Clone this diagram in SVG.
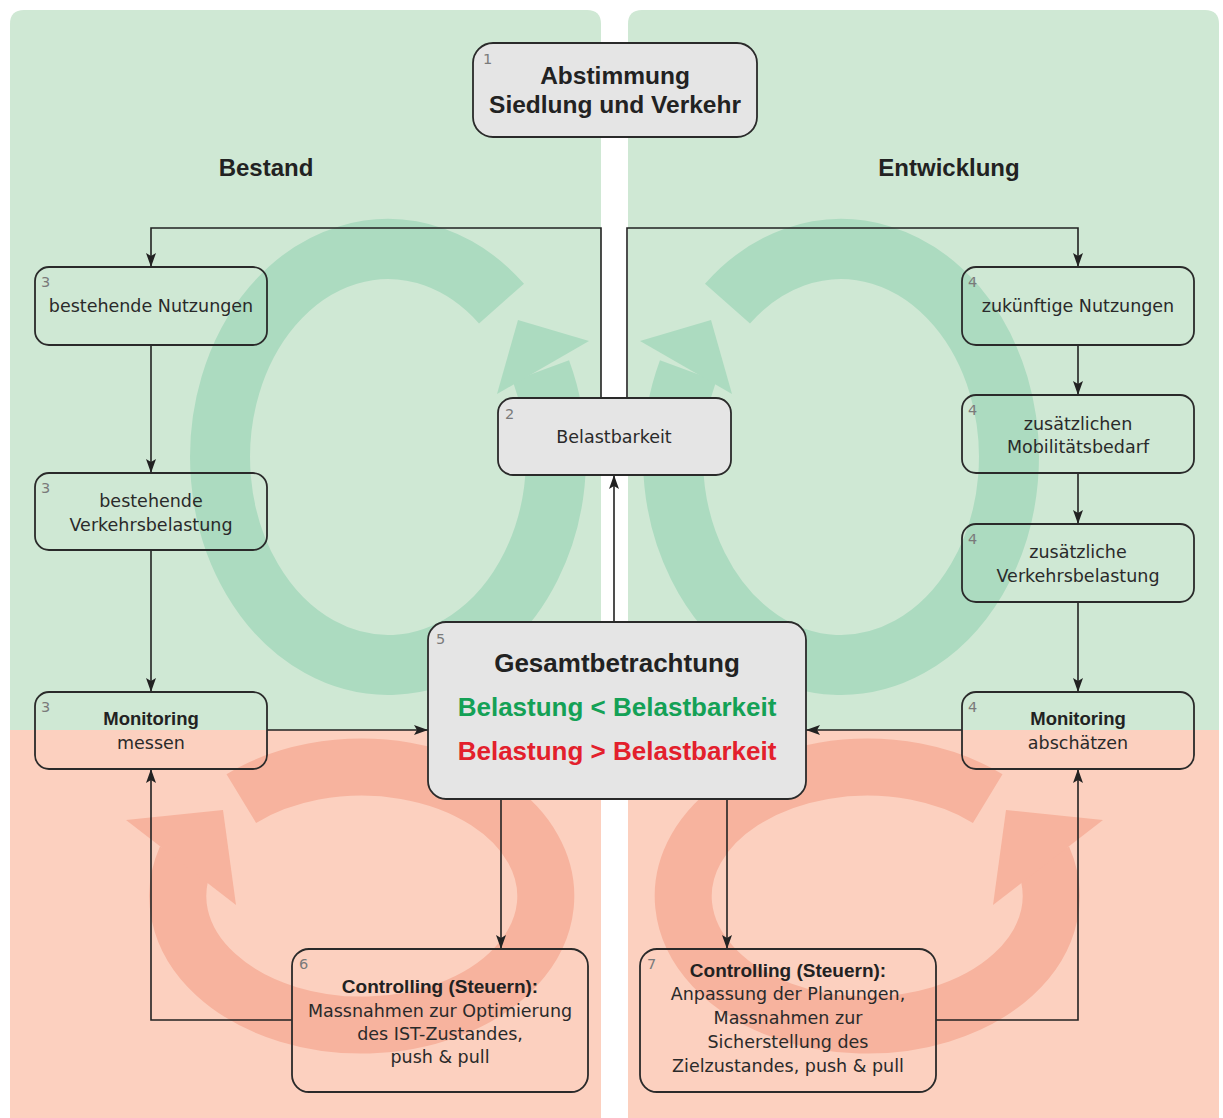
<svg xmlns="http://www.w3.org/2000/svg" width="1223" height="1118" viewBox="0 0 1223 1118">
<style>
.g{fill:#cfe8d4}
.s{fill:#fcd0bf}
.rg{fill:none;stroke:#acdbc0;stroke-width:60}
.rga{fill:#acdbc0}
.rs{fill:none;stroke:#f7b39e;stroke-width:57}
.rsa{fill:#f7b39e}
.box{fill:none;stroke:#2a2a2a;stroke-width:1.8}
.gbox{fill:#e5e5e5;stroke:#2a2a2a;stroke-width:1.8}
.t{font-family:"DejaVu Sans","Liberation Sans",sans-serif;font-size:17.5px;fill:#2a2a2a;text-anchor:middle}
.b{font-family:"Liberation Sans",Arial,sans-serif;font-weight:bold;fill:#222;text-anchor:middle}
.n{font-family:"DejaVu Sans",sans-serif;font-size:14.5px;fill:#7a7a7a}
.conn{fill:none;stroke:#222;stroke-width:1.6}
</style>
<defs>
<marker id="arr" viewBox="0 0 14 10" refX="14" refY="5" markerWidth="14" markerHeight="10" markerUnits="userSpaceOnUse" orient="auto">
<path d="M0,0 L14,5 L0,10 L3,5 Z" fill="#222"/>
</marker>
<g id="ringG">
<path class="rg" d="M501.5,303.6 A168,208 0 1 0 540.9,370.7"/>
<polygon class="rga" points="518,320 589,341 497,394"/>
</g>
<g id="ringS">
<path class="rs" d="M241.3,798.6 A184,129 0 1 1 186,858"/>
<polygon class="rsa" points="223,810 126,820 236,905"/>
</g>
</defs>

<g id="background">
<path class="g" d="M10,24 Q10,10 24,10 H587 Q601,10 601,24 V730 H10 Z"/>
<rect class="s" x="10" y="730" width="591" height="388"/>
<path class="g" d="M628,24 Q628,10 642,10 H1205 Q1219,10 1219,24 V730 H628 Z"/>
<rect class="s" x="628" y="730" width="591" height="388"/>
</g>

<g id="cycles">
<use href="#ringG"/>
<use href="#ringG" transform="matrix(-1,0,0,1,1229,0)"/>
<use href="#ringS"/>
<use href="#ringS" transform="matrix(-1,0,0,1,1229,0)"/>
</g>

<g id="headings">
<text class="b" x="266" y="176" font-size="24">Bestand</text>
<text class="b" x="949" y="176" font-size="24">Entwicklung</text>
</g>

<g id="connectors">
<path class="conn" d="M601,398 V228 H151 V267" marker-end="url(#arr)"/>
<path class="conn" d="M627,398 V228 H1078 V267" marker-end="url(#arr)"/>
<path class="conn" d="M614,622 V475" marker-end="url(#arr)"/>
<path class="conn" d="M151,345 V473" marker-end="url(#arr)"/>
<path class="conn" d="M151,550 V692" marker-end="url(#arr)"/>
<path class="conn" d="M267,730 H428" marker-end="url(#arr)"/>
<path class="conn" d="M1078,345 V395" marker-end="url(#arr)"/>
<path class="conn" d="M1078,473 V524" marker-end="url(#arr)"/>
<path class="conn" d="M1078,602 V692" marker-end="url(#arr)"/>
<path class="conn" d="M962,730 H806" marker-end="url(#arr)"/>
<path class="conn" d="M501,799 V949" marker-end="url(#arr)"/>
<path class="conn" d="M727,799 V949" marker-end="url(#arr)"/>
<path class="conn" d="M292,1020 H151 V769" marker-end="url(#arr)"/>
<path class="conn" d="M936,1020 H1078 V769" marker-end="url(#arr)"/>
</g>

<g id="node1">
<rect class="gbox" x="473" y="43" width="284" height="94" rx="20"/>
<text class="n" x="483" y="64">1</text>
<text class="b" x="615" y="84" font-size="24.5">Abstimmung</text>
<text class="b" x="615" y="113" font-size="24.5">Siedlung und Verkehr</text>
</g>

<g id="node2">
<rect class="gbox" x="498" y="398" width="233" height="77" rx="15"/>
<text class="n" x="505" y="419">2</text>
<text class="t" x="614" y="443">Belastbarkeit</text>
</g>

<g id="node3a">
<rect class="box" x="35" y="267" width="232" height="78" rx="14"/>
<text class="n" x="41" y="287">3</text>
<text class="t" x="151" y="312">bestehende Nutzungen</text>
</g>

<g id="node3b">
<rect class="box" x="35" y="473" width="232" height="77" rx="14"/>
<text class="n" x="41" y="493">3</text>
<text class="t" x="151" y="507">bestehende</text>
<text class="t" x="151" y="531">Verkehrsbelastung</text>
</g>

<g id="node3c">
<rect class="box" x="35" y="692" width="232" height="77" rx="14"/>
<text class="n" x="41" y="712">3</text>
<text class="b" x="151" y="725" font-size="18.5">Monitoring</text>
<text class="t" x="151" y="749">messen</text>
</g>

<g id="node4a">
<rect class="box" x="962" y="267" width="232" height="78" rx="14"/>
<text class="n" x="968" y="287">4</text>
<text class="t" x="1078" y="312">zukünftige Nutzungen</text>
</g>

<g id="node4b">
<rect class="box" x="962" y="395" width="232" height="78" rx="14"/>
<text class="n" x="968" y="415">4</text>
<text class="t" x="1078" y="430">zusätzlichen</text>
<text class="t" x="1078" y="453">Mobilitätsbedarf</text>
</g>

<g id="node4c">
<rect class="box" x="962" y="524" width="232" height="78" rx="14"/>
<text class="n" x="968" y="544">4</text>
<text class="t" x="1078" y="558">zusätzliche</text>
<text class="t" x="1078" y="582">Verkehrsbelastung</text>
</g>

<g id="node4d">
<rect class="box" x="962" y="692" width="232" height="77" rx="14"/>
<text class="n" x="968" y="712">4</text>
<text class="b" x="1078" y="725" font-size="18.5">Monitoring</text>
<text class="t" x="1078" y="749">abschätzen</text>
</g>

<g id="node5">
<rect class="gbox" x="428" y="622" width="378" height="177" rx="18"/>
<text class="n" x="436" y="644">5</text>
<text class="b" x="617" y="672" font-size="26">Gesamtbetrachtung</text>
<text class="b" x="617" y="716" font-size="26" style="fill:#14a156">Belastung &lt; Belastbarkeit</text>
<text class="b" x="617" y="760" font-size="26" style="fill:#e3202c">Belastung &gt; Belastbarkeit</text>
</g>

<g id="node6">
<rect class="box" x="292" y="949" width="296" height="143" rx="17"/>
<text class="n" x="299" y="969">6</text>
<text class="b" x="440" y="993" font-size="19">Controlling (Steuern):</text>
<text class="t" x="440" y="1017">Massnahmen zur Optimierung</text>
<text class="t" x="440" y="1040">des IST-Zustandes,</text>
<text class="t" x="440" y="1063">push &amp; pull</text>
</g>

<g id="node7">
<rect class="box" x="640" y="949" width="296" height="143" rx="17"/>
<text class="n" x="647" y="969">7</text>
<text class="b" x="788" y="977" font-size="19">Controlling (Steuern):</text>
<text class="t" x="788" y="1000">Anpassung der Planungen,</text>
<text class="t" x="788" y="1024">Massnahmen zur</text>
<text class="t" x="788" y="1048">Sicherstellung des</text>
<text class="t" x="788" y="1072">Zielzustandes, push &amp; pull</text>
</g>
</svg>
